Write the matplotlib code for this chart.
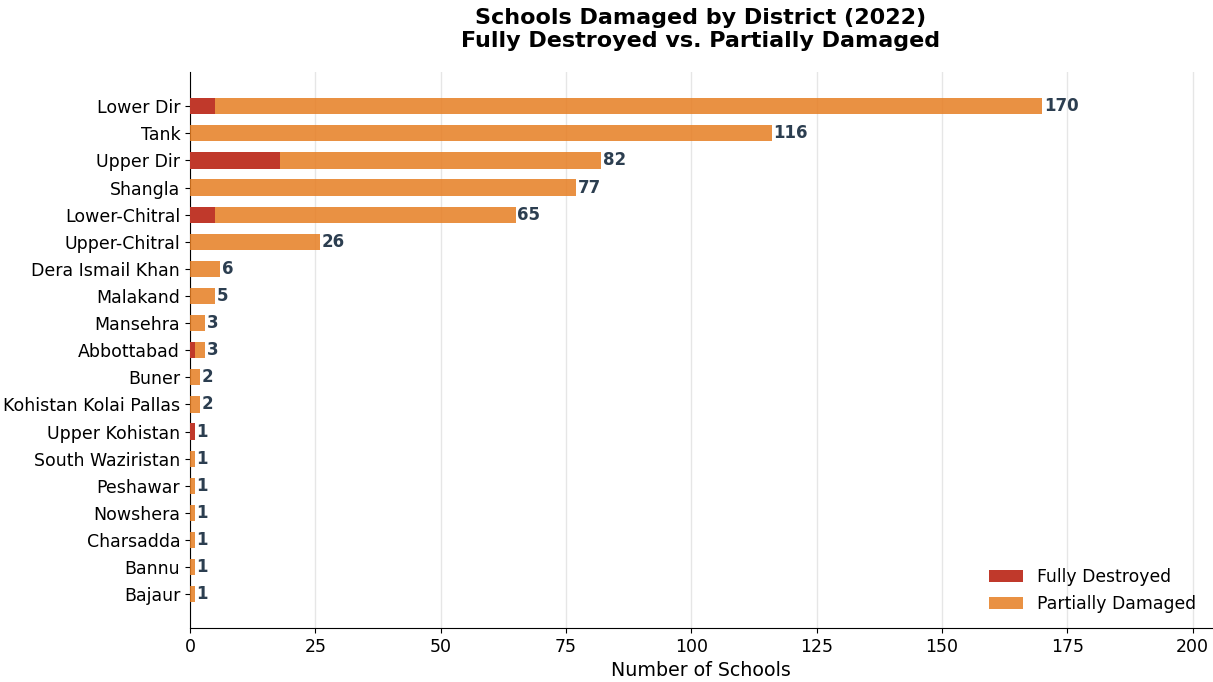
import matplotlib.pyplot as plt
import numpy as np

districts = ["Lower Dir", "Tank", "Upper Dir", "Shangla", "Lower-Chitral",
             "Upper-Chitral", "Dera Ismail Khan", "Malakand", "Mansehra",
             "Abbottabad", "Buner", "Kohistan Kolai Pallas", "Upper Kohistan",
             "South Waziristan", "Peshawar", "Nowshera", "Charsadda", "Bannu",
             "Bajaur"]
fully = [5, 0, 18, 0, 5, 0, 0, 0, 0, 1, 0, 0, 1, 0, 0, 0, 0, 0, 0]
totals = [170, 116, 82, 77, 65, 26, 6, 5, 3, 3, 2, 2, 1, 1, 1, 1, 1, 1, 1]
partial = [t - f for t, f in zip(totals, fully)]

fig, ax = plt.subplots(figsize=(12.13, 6.82), dpi=100)
fig.subplots_adjust(left=0.1566, right=0.999, top=0.894, bottom=0.079)
y = np.arange(len(districts))

ax.barh(y, fully, height=0.6, color="#c0392b", label="Fully Destroyed", zorder=3)
ax.barh(y, partial, left=fully, height=0.6, color="#e67e22", alpha=0.85,
        label="Partially Damaged", zorder=3)

for i, t in enumerate(totals):
    ax.text(t + 0.3, i, str(t), va="center", ha="left", fontsize=12,
            fontweight="bold", color="#2c3e50")

ax.set_yticks(y)
ax.set_yticklabels(districts, fontsize=12.5)
ax.set_ylim(19.25, -1.25)
ax.set_xlim(0, 203.8)
ax.set_xticks(np.arange(0, 201, 25))
ax.tick_params(axis="x", labelsize=12.5)
ax.set_xlabel("Number of Schools", fontsize=13.7)
ax.set_title("Schools Damaged by District (2022)\nFully Destroyed vs. Partially Damaged",
             fontsize=16, fontweight="bold", pad=18)
ax.grid(axis="x", color="#e6e6e6", linewidth=1, zorder=0)
ax.spines["top"].set_visible(False)
ax.spines["right"].set_visible(False)
ax.legend(loc="lower right", frameon=False, fontsize=12.4)

plt.savefig("out.png")
